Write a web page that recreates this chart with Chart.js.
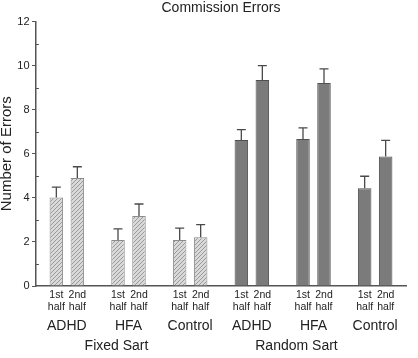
<!DOCTYPE html>
<html>
<head>
<meta charset="utf-8">
<script src="https://cdn.jsdelivr.net/npm/chart.js@4/dist/chart.umd.min.js"></script>
<style>
  html, body { margin: 0; padding: 0; background: #fff; }
  #wrap { width: 418px; height: 358px; position: relative; }
</style>
</head>
<body>
<div id="wrap"><canvas id="c" width="418" height="358"></canvas></div>
<script>
// ---- data ----
const categories = ['ADHD', 'HFA', 'Control', 'ADHD', 'HFA', 'Control'];
const sartType = ['Fixed', 'Fixed', 'Fixed', 'Random', 'Random', 'Random'];
const sectionLabels = ['Fixed Sart', 'Random Sart'];
const halfLabels = [['1st', 'half'], ['2nd', 'half']];
const firstHalf = [4.02, 2.09, 2.09, 6.62, 6.67, 4.43];
const secondHalf = [4.90, 3.18, 2.21, 9.35, 9.21, 5.88];
const firstHalfErr = [0.47, 0.50, 0.54, 0.47, 0.50, 0.55];
const secondHalfErr = [0.51, 0.54, 0.57, 0.65, 0.64, 0.73];
const yTicks = [0, 2, 4, 6, 8, 10, 12];
const yMinorTicks = [1, 3, 5, 7, 9, 11];

const FONT = '"Liberation Sans", Arial, Helvetica, sans-serif';
const TEXT = '#222';
const AXIS = '#555';

function makeHatch() {
  const s = 4;
  const c = document.createElement('canvas');
  c.width = s; c.height = s;
  const g = c.getContext('2d');
  g.fillStyle = '#d9d9d9';
  g.fillRect(0, 0, s, s);
  g.strokeStyle = '#9a9a9a';
  g.lineWidth = 1;
  g.beginPath();
  g.moveTo(0, s); g.lineTo(s, 0);
  g.moveTo(-1, 1); g.lineTo(1, -1);
  g.moveTo(s - 1, s + 1); g.lineTo(s + 1, s - 1);
  g.stroke();
  return g.createPattern(c, 'repeat');
}
const hatch = makeHatch();
const solid = '#7b7b7b';

const fillFor = ctx => sartType[ctx.dataIndex] === 'Fixed' ? hatch : solid;
const borderFor = ctx => sartType[ctx.dataIndex] === 'Fixed' ? '#8c8c8c' : '#505050';

const errs = [firstHalfErr, secondHalfErr];

const extrasPlugin = {
  id: 'extras',
  afterDatasetsDraw(chart) {
    const ctx = chart.ctx;
    const y = chart.scales.y;
    const x = chart.scales.x;
    ctx.save();
    // error bars (upper only)
    chart.data.datasets.forEach((ds, di) => {
      const meta = chart.getDatasetMeta(di);
      meta.data.forEach((el, i) => {
        const top = y.getPixelForValue(ds.data[i]);
        const et = y.getPixelForValue(ds.data[i] + errs[di][i]);
        ctx.strokeStyle = '#4a4a4a';
        ctx.lineWidth = 1.3;
        ctx.beginPath();
        ctx.moveTo(el.x, top);
        ctx.lineTo(el.x, et);
        ctx.moveTo(el.x - 4.5, et);
        ctx.lineTo(el.x + 4.5, et);
        ctx.stroke();
      });
    });
    // minor ticks (inside)
    ctx.strokeStyle = AXIS;
    ctx.lineWidth = 1;
    yMinorTicks.forEach(v => {
      const py = Math.round(y.getPixelForValue(v)) + 0.5;
      ctx.beginPath();
      ctx.moveTo(x.left, py);
      ctx.lineTo(x.left + 3, py);
      ctx.stroke();
    });
    // half labels under bars
    ctx.fillStyle = TEXT;
    ctx.font = '10.5px ' + FONT;
    ctx.textAlign = 'center';
    ctx.textBaseline = 'middle';
    chart.data.datasets.forEach((ds, di) => {
      const meta = chart.getDatasetMeta(di);
      meta.data.forEach(el => {
        ctx.fillText(halfLabels[di][0], el.x, y.bottom + 9);
        ctx.fillText(halfLabels[di][1], el.x, y.bottom + 21);
      });
    });
    // section labels
    ctx.font = '14px ' + FONT;
    ctx.fillText(sectionLabels[0], x.getPixelForValue(1) - 12, y.bottom + 60);
    ctx.fillText(sectionLabels[1], x.getPixelForValue(4) - 17, y.bottom + 60);
    ctx.restore();
  }
};

new Chart(document.getElementById('c'), {
  type: 'bar',
  data: {
    labels: categories,
    datasets: [
      { label: '1st half', data: firstHalf, backgroundColor: fillFor, borderColor: borderFor, borderWidth: 1 },
      { label: '2nd half', data: secondHalf, backgroundColor: fillFor, borderColor: borderFor, borderWidth: 1 }
    ]
  },
  options: {
    responsive: false,
    animation: false,
    devicePixelRatio: 1,
    layout: { padding: { left: 0, right: 12, top: 0, bottom: 0 } },
    datasets: { bar: { categoryPercentage: 0.681, barPercentage: 0.643 } },
    plugins: {
      legend: { display: false },
      tooltip: { enabled: false },
      title: {
        display: true,
        text: 'Commission Errors',
        fullSize: false,
        color: TEXT,
        font: { family: FONT, size: 14, weight: 'normal' },
        padding: { top: -0.5, bottom: 5.2 }
      }
    },
    scales: {
      x: {
        grid: { display: true, drawOnChartArea: false, drawTicks: false },
        border: { display: true, color: AXIS, width: 1.5 },
        ticks: { color: TEXT, font: { family: FONT, size: 14 }, padding: 32, maxRotation: 0, autoSkip: false },
        afterFit(s) { s.height = 72; s.paddingLeft = 0; s.paddingRight = 0; }
      },
      y: {
        min: 0, max: 12,
        afterBuildTicks(s) { s.ticks = yTicks.map(v => ({ value: v })); },
        grid: { drawOnChartArea: false, drawTicks: true, tickLength: 4, tickColor: AXIS },
        border: { display: true, color: AXIS, width: 1.5 },
        ticks: { color: TEXT, font: { family: FONT, size: 11 }, padding: 2.5 },
        title: {
          display: true,
          text: 'Number of Errors',
          color: TEXT,
          font: { family: FONT, size: 15 },
          padding: { top: -2.5, bottom: 0 }
        },
        afterFit(s) { s.width = 36; s.paddingTop = 0; s.paddingBottom = 0; }
      }
    }
  },
  plugins: [extrasPlugin]
});
</script>
</body>
</html>
